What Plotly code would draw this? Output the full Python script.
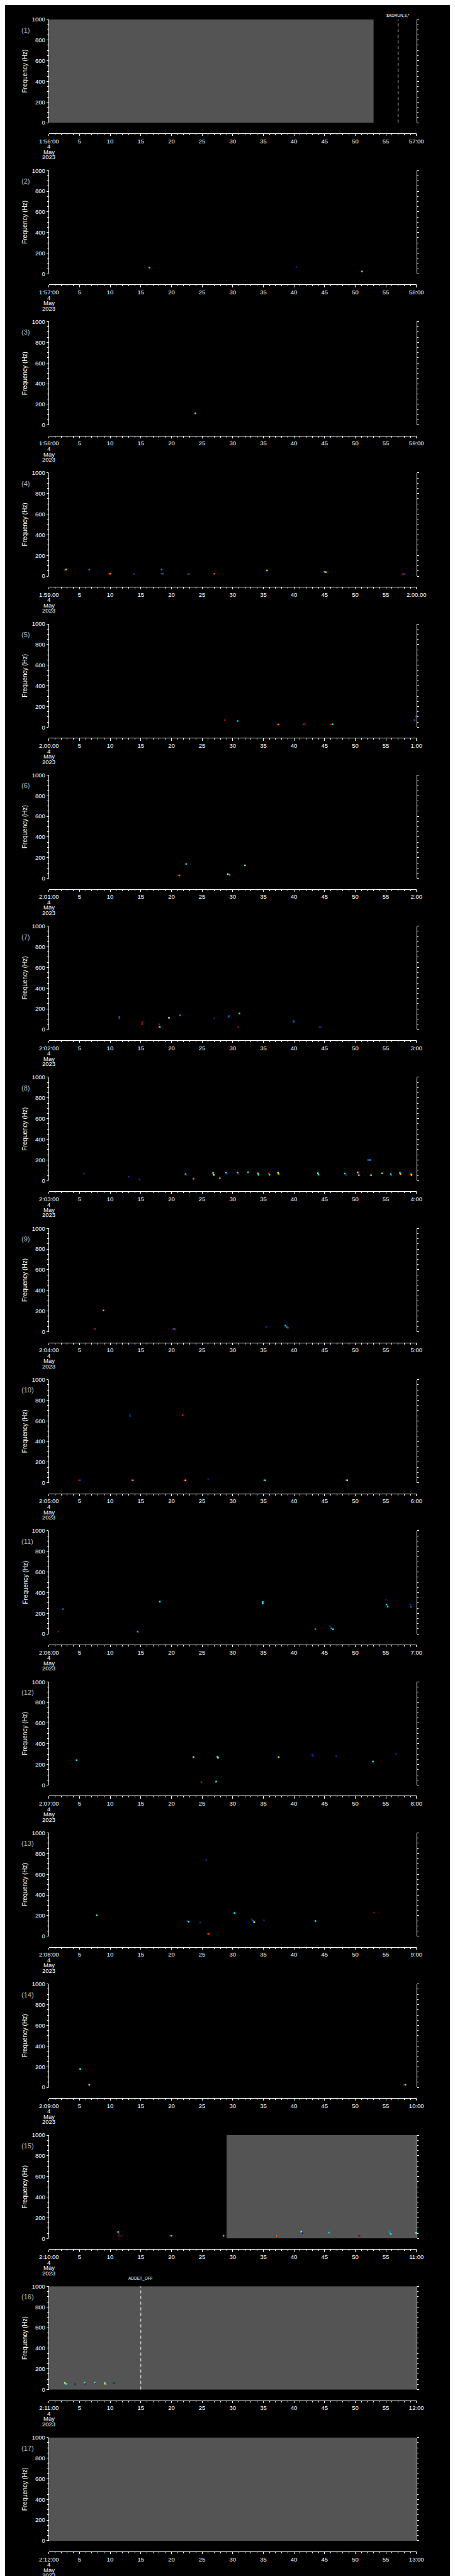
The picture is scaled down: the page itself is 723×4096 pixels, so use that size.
import plotly.graph_objects as go

# ---------------- data ----------------
N_PANELS = 17
panel_start_labels = ["1:56:00", "1:57:00", "1:58:00", "1:59:00", "2:00:00", "2:01:00",
                      "2:02:00", "2:03:00", "2:04:00", "2:05:00", "2:06:00", "2:07:00",
                      "2:08:00", "2:09:00", "2:10:00", "2:11:00", "2:12:00"]
panel_end_labels = ["57:00", "58:00", "59:00", "2:00:00", "1:00", "2:00", "3:00", "4:00",
                    "5:00", "6:00", "7:00", "8:00", "9:00", "10:00", "11:00", "12:00", "13:00"]
time_major_ticks = [0, 5, 10, 15, 20, 25, 30, 35, 40, 45, 50, 55, 60]
time_inner_labels = ["5", "10", "15", "20", "25", "30", "35", "40", "45", "50", "55"]
freq_ticks = [0, 200, 400, 600, 800, 1000]
freq_labels = ["0", "200", "400", "600", "800", "1000"]
date_lines = ["4", "May", "2023"]
y_title = "Frequency (Hz)"

# detected emissions: panel index, seconds into the minute, frequency (Hz), intensity level (0..1)
event_panel = (
    [2] * 3 + [3] * 1 + [4] * 17 + [5] * 10 + [6] * 6 + [7] * 18 + [8] * 38 + [9] * 9 +
    [10] * 14 + [11] * 16 + [12] * 13 + [13] * 14 + [14] * 5 + [15] * 18 + [16] * 10
)
event_time = [
    16.4, 40.4, 51.1,
    23.9,
    2.6, 2.8, 6.6, 9.8, 10.0, 13.9, 18.4, 18.4, 18.6, 22.7, 22.9, 27.0, 35.6, 45.0, 45.2, 57.8, 58.0,
    28.7, 30.8, 37.3, 37.5, 41.6, 41.9, 46.0, 46.3, 59.9, 59.7,
    21.1, 21.3, 22.4, 29.2, 29.5, 32.0,
    11.5, 11.5, 15.2, 15.2, 18.0, 18.0, 18.1, 19.6, 21.4, 27.0, 29.3, 29.4, 31.1, 30.9, 39.9, 40.0, 44.2, 44.4,
    5.7, 13.0, 14.8, 22.3, 22.4, 23.6, 26.8, 26.9, 27.9, 28.9, 29.0, 30.8, 30.9, 32.5, 34.1, 34.2, 35.9, 36.0, 37.4,
    37.5, 43.9, 44.0, 48.3, 48.5, 50.4, 50.5, 50.6, 52.1, 52.4, 52.5, 52.6, 54.4, 55.8, 55.9, 57.3, 57.4, 59.1, 59.2,
    8.9, 7.4, 7.6, 20.3, 20.5, 35.5, 38.6, 38.8, 39.0,
    13.2, 13.3, 21.8, 4.9, 5.1, 13.5, 13.7, 22.1, 22.3, 26.0, 35.1, 35.3, 48.5, 48.7,
    1.5, 2.3, 14.5, 14.6, 18.1, 34.9, 34.9, 43.5, 45.9, 46.1, 46.4, 55.0, 55.1, 55.3, 59.0, 59.1,
    4.5, 23.6, 27.5, 27.6, 37.5, 43.0, 43.1, 46.9, 52.9, 56.7, 24.9, 27.2, 27.3,
    7.8, 25.7, 22.6, 22.8, 24.7, 25.9, 26.1, 30.3, 33.1, 33.3, 33.5, 35.1, 43.5, 53.1,
    5.1, 6.5, 6.6, 58.0, 58.2,
    11.3, 11.4, 11.4, 11.8, 19.8, 20.0, 28.5, 37.1, 37.0, 41.2, 41.4, 45.7, 50.6, 50.7, 55.5, 55.6, 55.8, 59.9,
    2.6, 2.8, 4.3, 5.8, 5.9, 7.5, 7.6, 9.1, 9.2, 10.6,
]
event_freq = [
    61, 66, 23,
    113,
    58, 64, 63, 23, 23, 20, 63, 23, 24, 20, 20, 23, 55, 42, 38, 20, 20,
    69, 60, 26, 26, 28, 29, 27, 28, 106, 69,
    29, 29, 140, 41, 33, 126,
    108, 120, 72, 52, 50, 25, 25, 113, 137, 108, 120, 130, 155, 23, 85, 75, 22, 22,
    69, 38, 12, 63, 55, 18, 75, 55, 23, 78, 65, 77, 65, 80, 70, 57, 70, 57, 78,
    65, 72, 58, 68, 55, 80, 65, 52, 200, 200, 58, 52, 70, 62, 55, 75, 62, 62, 55,
    205, 26, 26, 26, 26, 48, 60, 48, 38,
    660, 645, 653, 25, 25, 25, 25, 23, 25, 35, 25, 25, 25, 25,
    23, 242, 23, 23, 313, 310, 295, 47, 75, 55, 45, 330, 285, 265, 285, 262,
    242, 270, 275, 265, 270, 292, 283, 278, 228, 300, 28, 27, 35,
    203, 737, 146, 142, 132, 23, 23, 225, 165, 150, 135, 154, 147, 230,
    179, 25, 25, 25, 25,
    62, 50, 26, 26, 26, 26, 26, 24, 22, 68, 52, 57, 26, 26, 80, 62, 45, 55,
    65, 55, 54, 66, 56, 66, 58, 65, 55, 62,
]
event_level = [
    0.40, 0.12, 0.65,
    0.50,
    0.95, 0.45, 0.30, 0.95, 0.70, 0.20, 0.30, 0.95, 0.25, 0.90, 0.20, 0.75, 0.65, 0.70, 0.40, 0.90, 0.20,
    0.90, 0.35, 0.90, 0.70, 0.80, 0.10, 0.90, 0.45, 0.20, 0.25,
    0.95, 0.70, 0.35, 0.55, 0.30, 0.50,
    0.20, 0.25, 0.90, 0.90, 0.95, 0.90, 0.40, 0.55, 0.30, 0.20, 0.20, 0.25, 0.40, 0.95, 0.20, 0.25, 0.95, 0.15,
    0.15, 0.20, 0.20, 0.65, 0.20, 0.70, 0.50, 0.55, 0.70, 0.40, 0.20, 0.65, 0.15, 0.40, 0.65, 0.40, 0.80, 0.40, 0.55,
    0.65, 0.50, 0.40, 0.40, 0.15, 0.65, 0.85, 0.35, 0.25, 0.30, 0.95, 0.40, 0.45, 0.40, 0.25, 0.40, 0.65, 0.70, 0.55,
    0.65, 0.95, 0.20, 0.90, 0.25, 0.20, 0.35, 0.30, 0.25,
    0.15, 0.15, 0.80, 0.90, 0.20, 0.90, 0.70, 0.90, 0.65, 0.10, 0.90, 0.40, 0.90, 0.55,
    0.95, 0.25, 0.65, 0.20, 0.40, 0.40, 0.40, 0.30, 0.15, 0.30, 0.40, 0.10, 0.35, 0.40, 0.15, 0.25,
    0.40, 0.55, 0.40, 0.55, 0.55, 0.20, 0.15, 0.20, 0.40, 0.15, 0.80, 0.95, 0.40,
    0.45, 0.15, 0.15, 0.40, 0.20, 0.90, 0.75, 0.40, 0.15, 0.25, 0.55, 0.15, 0.40, 0.95,
    0.40, 0.90, 0.45, 0.90, 0.45,
    0.40, 0.90, 0.95, 0.15, 0.95, 0.40, 0.40, 0.70, 0.90, 0.55, 0.15, 0.35, 0.95, 0.15, 0.25, 0.30, 0.40, 0.40,
    0.55, 0.40, 0.15, 0.45, 0.20, 0.45, 0.20, 0.45, 0.65, 0.15,
]

# grey (no-data) intervals: panel, start second, end second
gray_panel = [1, 15, 16, 17]
gray_start = [0, 29, 0, 0]
gray_end = [53, 60, 60, 60]

# command markers: panel, second, label
cmd_panel = [1, 16]
cmd_time = [57, 15]
cmd_text = ["$ADRUN,3,*", "ADDET_OFF"]

# ---------------- geometry (reference px, 1024 x 5802) ----------------
W0, H0 = 1024.0, 5802.0
PLOT_L, PLOT_R = 79.7, 945.1
FIRST_TOP, PITCH, PLOT_H, XAXIS_OFF = 24.0, 341.3, 233.3, 257.5
FONT = "Liberation Sans, Arial, sans-serif"
TICK_FS = 9.5


def py(px):
    return 1 - px / H0


fig = go.Figure()
layout = dict(
    width=723, height=4096, margin=dict(l=0, r=0, t=0, b=0),
    paper_bgcolor="black", plot_bgcolor="black", showlegend=False,
    font=dict(family=FONT, color="white"),
)
annotations = []
shapes = []

for i in range(1, N_PANELS + 1):
    top = FIRST_TOP + (i - 1) * PITCH
    sfx = "" if i == 1 else str(i)
    xname, yname = "x" + sfx, "y" + sfx

    layout["xaxis" + sfx] = dict(
        domain=[PLOT_L / W0, PLOT_R / W0], range=[0, 60], anchor="free",
        position=py(top + XAXIS_OFF), showline=True, linecolor="white", linewidth=1,
        ticks="outside", ticklen=3.2, tickwidth=1, tickcolor="white",
        tickmode="array", tickvals=time_major_ticks,
        ticktext=[panel_start_labels[i - 1]] + time_inner_labels + [panel_end_labels[i - 1]],
        tickfont=dict(color="white", size=TICK_FS, family=FONT), tickangle=0,
        minor=dict(tickmode="linear", tick0=0, dtick=1, ticks="outside", ticklen=2,
                   tickwidth=1, tickcolor="white", showgrid=False),
        showgrid=False, zeroline=False, fixedrange=True,
    )
    layout["yaxis" + sfx] = dict(
        domain=[py(top + PLOT_H), py(top)], range=[0, 1000], anchor=xname,
        showline=True, linecolor="white", linewidth=1, mirror="ticks",
        ticks="outside", ticklen=3, tickwidth=1, tickcolor="white",
        tickmode="array", tickvals=freq_ticks, ticktext=freq_labels,
        tickfont=dict(color="white", size=TICK_FS, family=FONT),
        minor=dict(tickmode="linear", tick0=0, dtick=50, ticks="outside", ticklen=2,
                   tickwidth=1, tickcolor="white", showgrid=False),
        showgrid=False, zeroline=False, fixedrange=True,
    )

    # events
    xs = [t for p, t in zip(event_panel, event_time) if p == i]
    ys = [f for p, f in zip(event_panel, event_freq) if p == i]
    cs = [c for p, c in zip(event_panel, event_level) if p == i]
    fig.add_trace(go.Scatter(
        x=xs, y=ys, mode="markers", xaxis=xname, yaxis=yname, hoverinfo="skip",
        marker=dict(symbol="square", size=2.5, color=cs, colorscale="Jet", cmin=0, cmax=1,
                    line=dict(width=0)),
    ))

    # panel number
    annotations.append(dict(
        text="(%d)" % i, xref="paper", yref="paper", x=12 / W0, y=py(top + 24),
        xanchor="left", yanchor="middle", showarrow=False,
        font=dict(color="#b8b8b8", size=11, family=FONT),
    ))
    # y title
    annotations.append(dict(
        text=y_title, xref="paper", yref="paper", x=23 / W0, y=py(top + PLOT_H / 2),
        xanchor="center", yanchor="middle", textangle=-90, showarrow=False,
        font=dict(color="white", size=10, family=FONT),
    ))
    # date under first tick
    for k, line in enumerate(date_lines):
        annotations.append(dict(
            text=line, xref=xname, yref="paper", x=0, y=py(top + 287 + 12 * k),
            xanchor="center", yanchor="middle", showarrow=False,
            font=dict(color="white", size=TICK_FS, family=FONT),
        ))

for p, a, b in zip(gray_panel, gray_start, gray_end):
    sfx = "" if p == 1 else str(p)
    shapes.append(dict(type="rect", xref="x" + sfx, yref="y" + sfx, x0=a, x1=b, y0=0, y1=1000,
                       fillcolor="#545454", line=dict(width=0), layer="below"))

for p, t, txt in zip(cmd_panel, cmd_time, cmd_text):
    sfx = "" if p == 1 else str(p)
    top = FIRST_TOP + (p - 1) * PITCH
    shapes.append(dict(type="line", xref="x" + sfx, yref="y" + sfx, x0=t, x1=t, y0=0, y1=1000,
                       line=dict(color="white", width=1, dash="5px,4px"), layer="above"))
    annotations.append(dict(
        text=txt, xref="x" + sfx, yref="paper", x=t, y=py(max(top - 17, 15.5)),
        xanchor="center", yanchor="middle", showarrow=False,
        font=dict(color="white", size=6.5, family=FONT),
    ))

layout["annotations"] = annotations
layout["shapes"] = shapes
fig.update_layout(**layout)
fig.write_html("out.html")
